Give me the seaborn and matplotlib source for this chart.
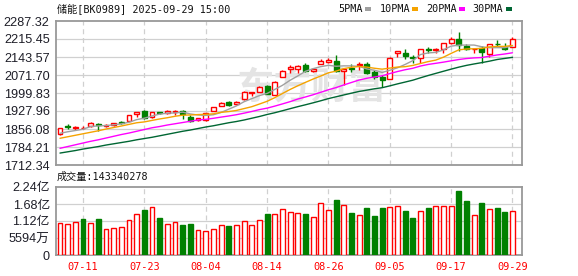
import numpy as np
import pandas as pd
import matplotlib
matplotlib.use("Agg")
import matplotlib.pyplot as plt
import matplotlib.transforms as mtransforms
from matplotlib.patches import Rectangle
import seaborn as sns

# ---------------- data ----------------
dates = ["07-08", "07-09", "07-10", "07-11", "07-14", "07-15", "07-16", "07-17", "07-18",
         "07-21", "07-22", "07-23", "07-24", "07-25", "07-28", "07-29", "07-30", "07-31",
         "08-01", "08-04", "08-05", "08-06", "08-07", "08-08", "08-11", "08-12", "08-13",
         "08-14", "08-15", "08-18", "08-19", "08-20", "08-21", "08-22", "08-25", "08-26",
         "08-27", "08-28", "08-29", "09-01", "09-02", "09-03", "09-04", "09-05", "09-08",
         "09-09", "09-10", "09-11", "09-12", "09-15", "09-16", "09-17", "09-18", "09-19",
         "09-22", "09-23", "09-24", "09-25", "09-26", "09-29"]

opens = [1835, 1869, 1861, 1860, 1868, 1877, 1870, 1871, 1885, 1889, 1916, 1928, 1904, 1922,
         1921, 1924, 1929, 1903, 1891, 1892, 1929, 1948, 1964, 1955, 1975, 2000, 2005, 2028,
         1993, 2065, 2097, 2097, 2113, 2089, 2116, 2124, 2129, 2086, 2100, 2112, 2116, 2084,
         2065, 2057, 2158, 2161, 2142, 2140, 2176, 2173, 2177, 2198, 2214, 2187, 2174, 2180,
         2156, 2196, 2185, 2185]
closes = [1859, 1866, 1863, 1862, 1880, 1871, 1872, 1879, 1882, 1911, 1924, 1900, 1923, 1920,
          1929, 1929, 1916, 1887, 1899, 1920, 1943, 1961, 1953, 1964, 2004, 2004, 2022, 1996,
          2044, 2086, 2105, 2108, 2089, 2097, 2126, 2132, 2089, 2097, 2096, 2117, 2081, 2063,
          2052, 2140, 2166, 2148, 2139, 2174, 2172, 2177, 2198, 2214, 2193, 2174, 2177, 2164,
          2195, 2194, 2174, 2214]
highs = [1860, 1876, 1868, 1867, 1884, 1882, 1877, 1882, 1889, 1912, 1925, 1930, 1925, 1925,
         1930, 1931, 1931, 1911, 1901, 1921, 1945, 1963, 1968, 1966, 2006, 2005, 2028, 2030,
         2046, 2092, 2113, 2110, 2118, 2099, 2134, 2140, 2152, 2100, 2116, 2122, 2124, 2092,
         2073, 2142, 2168, 2174, 2153, 2176, 2185, 2178, 2200, 2225, 2243, 2195, 2178, 2187,
         2197, 2211, 2201, 2225]
lows = [1834, 1857, 1852, 1855, 1866, 1849, 1865, 1869, 1875, 1888, 1905, 1898, 1902, 1916,
        1916, 1913, 1897, 1884, 1889, 1890, 1927, 1946, 1948, 1950, 1973, 1988, 2004, 1994,
        1991, 2063, 2081, 2078, 2084, 2082, 2114, 2118, 2085, 2033, 2084, 2092, 2076, 2055,
        2025, 2055, 2142, 2137, 2121, 2121, 2161, 2161, 2161, 2196, 2166, 2170, 2158, 2118,
        2145, 2185, 2172, 2183]

# volume in millions of shares
volumes = [106, 102, 109, 118, 105, 118, 85.5, 89, 92, 115, 135, 148, 157, 122, 102, 109,
           99, 102, 82, 79, 85.5, 99, 95, 99, 112, 99, 115, 135, 135, 151, 141, 137, 135,
           124, 170, 147, 181, 163, 138, 131, 155, 128, 155, 157, 160, 145, 122, 145, 155,
           160, 160, 160, 211, 178, 131, 171, 150, 155, 141, 143.340278]
# 1 = red (up) volume bar, 0 = green (down)
vol_up = [1, 1, 1, 0, 1, 0, 1, 1, 1, 1, 1, 0, 1, 0, 1, 1, 0, 0, 1, 1, 1, 1, 0, 1, 1, 1, 1, 0,
          1, 1, 1, 1, 0, 1, 1, 1, 0, 1, 0, 1, 0, 0, 0, 1, 1, 0, 0, 1, 0, 1, 1, 1, 0, 0, 1, 0,
          1, 0, 0, 1]

# moving-average values before each window is filled
ma5_head = [1839, 1845, 1850, 1855]
ma10_head = [1819, 1825, 1831, 1837, 1843, 1849, 1856, 1862, 1868]
ma20_head = [1779, 1786, 1793, 1800, 1807, 1813, 1820, 1827, 1834, 1840, 1847, 1854, 1861,
             1866, 1872, 1877, 1882, 1887, 1892]
ma30_head = [1760, 1765, 1770, 1776, 1781, 1786, 1792, 1797, 1802, 1807, 1813, 1818, 1823,
             1829, 1835, 1841, 1847, 1852, 1858, 1864, 1869, 1875, 1881, 1886, 1892, 1899,
             1906, 1914, 1921]

price_ticks = [1712.34, 1784.21, 1856.08, 1927.96, 1999.83, 2071.70, 2143.57, 2215.45, 2287.32]
price_tick_labels = ["1712.34", "1784.21", "1856.08", "1927.96", "1999.83", "2071.70",
                     "2143.57", "2215.45", "2287.32"]
vol_ticks = [0, 55.94, 111.88, 167.82, 223.76]
vol_tick_labels = ["0", "5594万", "1.12亿", "1.68亿", "2.24亿"]
date_tick_labels = ["07-11", "07-23", "08-04", "08-14", "08-26", "09-05", "09-17", "09-29"]

title_text = "储能[BK0989] 2025-09-29 15:00"
vol_title = "成交量:143340278"
legend_names = ["5PMA", "10PMA", "20PMA", "30PMA"]

# ---------------- style ----------------
sns.set_theme(style="white")
plt.rcParams["font.family"] = ["Liberation Sans", "Noto Sans CJK SC", "DejaVu Sans"]
MONO = ["DejaVu Sans Mono", "Noto Sans CJK SC"]

RED = "#ff0000"
GREEN = "#008000"
MA_COLORS = ["#a0a0a0", "#f5a300", "#ff00ff", "#006633"]
GRID = "#d0d0d0"
SPINE = "#999999"

W, H = 578, 276
fig = plt.figure(figsize=(W / 100, H / 100), dpi=100)
fig.patch.set_facecolor("white")

def frac_box(left, top, right, bottom):
    return [left / W, (H - bottom) / H, (right - left) / W, (bottom - top) / H]

ax1 = fig.add_axes(frac_box(56, 21, 522, 165))
ax2 = fig.add_axes(frac_box(56, 187, 522, 255))

n = len(dates)
idx = np.arange(n)
o = np.array(opens, float)
c = np.array(closes, float)
hi = np.array(highs, float)
lo = np.array(lows, float)
up = c >= o

def moving_average(head, win):
    s = pd.Series(c).rolling(win).mean().to_numpy()
    s[:win - 1] = head
    return s

mas = [moving_average(ma5_head, 5), moving_average(ma10_head, 10),
       moving_average(ma20_head, 20), moving_average(ma30_head, 30)]

date_pos = [dates.index(d) for d in date_tick_labels]
xlim = (-0.52, 60.24)
bw = 0.64

for ax in (ax1, ax2):
    ax.set_facecolor("white")
    for sp in ax.spines.values():
        sp.set_color(SPINE)
        sp.set_linewidth(1.3)
    ax.set_xlim(*xlim)
    for p in date_pos:
        ax.axvline(p, color=GRID, lw=0.9, ls=(0, (4, 3)), zorder=0)

# ---- price panel ----
ax1.set_ylim(price_ticks[0], price_ticks[-1])
for t in price_ticks[1:-1]:
    ax1.axhline(t, color=GRID, lw=0.9, zorder=0)

ax1.text(0.549, 0.535, "东方财富", transform=ax1.transAxes, ha="center", va="center",
         fontsize=27, fontweight="bold", style="italic", color="#e4e4e4",
         family=["Noto Sans CJK SC"], zorder=0.5)

colors = np.where(up, RED, GREEN)
ax1.vlines(idx, lo, hi, colors=colors, lw=1.0, zorder=2)
body_bottom = np.minimum(o, c)
body_h = np.maximum(np.abs(c - o), 0.6)
ax1.bar(idx, body_h, bottom=body_bottom, width=bw,
        color=np.where(up, "white", GREEN), edgecolor=colors, linewidth=1.0, zorder=3)

for m, col in zip(mas, MA_COLORS):
    sns.lineplot(x=idx, y=m, ax=ax1, color=col, linewidth=1.0, zorder=4)

ax1.set_yticks(price_ticks)
ax1.set_yticklabels(price_tick_labels)
ax1.set_xticks([])
ax1.set_xlabel("")
ax1.set_ylabel("")
ax1.tick_params(axis="y", length=3, color=SPINE, pad=1.5, labelsize=9.1, labelcolor="#1e1e28")

# ---- volume panel ----
vols = np.array(volumes, float)
vup = np.array(vol_up) == 1
ax2.set_ylim(vol_ticks[0], vol_ticks[-1])
for t in vol_ticks[1:-1]:
    ax2.axhline(t, color=GRID, lw=0.9, zorder=0)
ax2.bar(idx, vols, width=bw, color=np.where(vup, "white", GREEN),
        edgecolor=np.where(vup, RED, GREEN), linewidth=1.0, zorder=3)
ax2.set_yticks(vol_ticks)
ax2.set_yticklabels(vol_tick_labels)
ax2.tick_params(axis="y", length=3, color=SPINE, pad=1.5, labelsize=9.1, labelcolor="#1e1e28")
ax2.set_xticks([])
ax2.set_xlabel("")
ax2.set_ylabel("")

# date labels drawn in red under the volume panel
trans = mtransforms.blended_transform_factory(ax2.transData, fig.transFigure)
for p, lab in zip(date_pos, date_tick_labels):
    ax2.text(p, 1 - 266.5 / H, lab, transform=trans, ha="center", va="center",
             family=MONO, fontsize=7.4, color=RED, clip_on=False)

# ---- texts ----
fig.text(57 / W, 1 - 8.5 / H, title_text, ha="left", va="center", family=MONO,
         fontsize=7.3, color="#111111")
fig.text(57 / W, 1 - 177 / H, vol_title, ha="left", va="center", family=MONO,
         fontsize=7.3, color="#111111")

leg_text_x = [338, 380, 426, 472]
leg_mark_x = [365, 412, 459, 506]
for name, tx, mx, col in zip(legend_names, leg_text_x, leg_mark_x, MA_COLORS):
    fig.text(tx / W, 1 - 8.5 / H, name, ha="left", va="center", family=MONO,
             fontsize=7.3, color="#111111")
    fig.add_artist(Rectangle((mx / W, 1 - 10.5 / H), 6 / W, 3.5 / H,
                             transform=fig.transFigure, color=col, lw=0))

fig.savefig("out.png", dpi=100, facecolor="white")
